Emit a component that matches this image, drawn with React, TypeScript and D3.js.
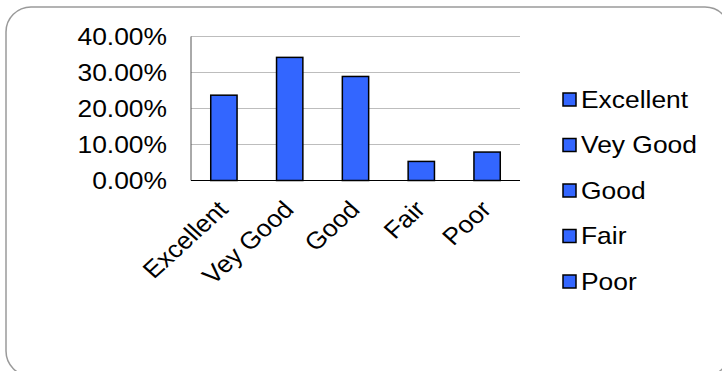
import React from "react";
import * as d3 from "d3";

const categories = ["Excellent", "Vey Good", "Good", "Fair", "Poor"];
const values = [0.237, 0.342, 0.289, 0.053, 0.079];
const yTicks = [0, 0.1, 0.2, 0.3, 0.4];

const W = 722;
const H = 371;
const FONT = "'Liberation Sans', Arial, sans-serif";
const FS = 24;
const SX = 1.1;
const BAR = "#3366FF";

export default function App() {
  const x = d3
    .scaleBand<string>()
    .domain(categories)
    .range([191, 520])
    .paddingInner(0.6)
    .paddingOuter(0.3);
  const y = d3.scaleLinear().domain([0, 0.4]).range([180.5, 36.5]);
  const fmt = d3.format(".2%");

  return (
    <svg
      width={W}
      height={H}
      style={{ position: "absolute", left: 0, top: 0, background: "#fff" }}
      fontFamily={FONT}
    >
      <rect x={6} y={7} width={724} height={369} rx={25} ry={25} fill="#fff" stroke="#9a9a9a" strokeWidth={1.5} />
      {yTicks.map((t) =>
        t > 0 ? (
          <line key={"g" + t} x1={191} x2={520} y1={y(t)} y2={y(t)} stroke="#bdbdbd" strokeWidth={1} />
        ) : null
      )}
      {yTicks.map((t) => (
        <text
          key={"t" + t}
          transform={`translate(167,${y(t)}) scale(${SX},1)`}
          textAnchor="end"
          dy="0.35em"
          fontSize={FS}
          fill="#000"
        >
          {fmt(t)}
        </text>
      ))}
      <line x1={191} x2={191} y1={36.5} y2={180.5} stroke="#555" strokeWidth={1} />
      {categories.map((c, i) => (
        <rect
          key={c}
          x={x(c)!}
          y={y(values[i])}
          width={x.bandwidth()}
          height={y(0) - y(values[i])}
          fill={BAR}
          stroke="#000"
          strokeWidth={1.5}
        />
      ))}
      <line x1={191} x2={520} y1={180.5} y2={180.5} stroke="#000" strokeWidth={1.2} />
      {categories.map((c) => {
        const cx = x(c)! + x.bandwidth() / 2;
        return (
          <text
            key={"x" + c}
            transform={`translate(${cx - 1},205) scale(${SX},1) rotate(-45)`}
            textAnchor="end"
            dy="0.35em"
            fontSize={FS}
            fill="#000"
          >
            {c}
          </text>
        );
      })}
      {categories.map((c, i) => {
        const cy = 99.5 + i * 45.5;
        return (
          <g key={"l" + c}>
            <rect x={563} y={cy - 6.5} width={13} height={13} fill={BAR} stroke="#000" strokeWidth={1.5} />
            <text
              transform={`translate(581,${cy}) scale(${SX},1)`}
              dy="0.35em"
              fontSize={FS}
              fill="#000"
            >
              {c}
            </text>
          </g>
        );
      })}
    </svg>
  );
}
